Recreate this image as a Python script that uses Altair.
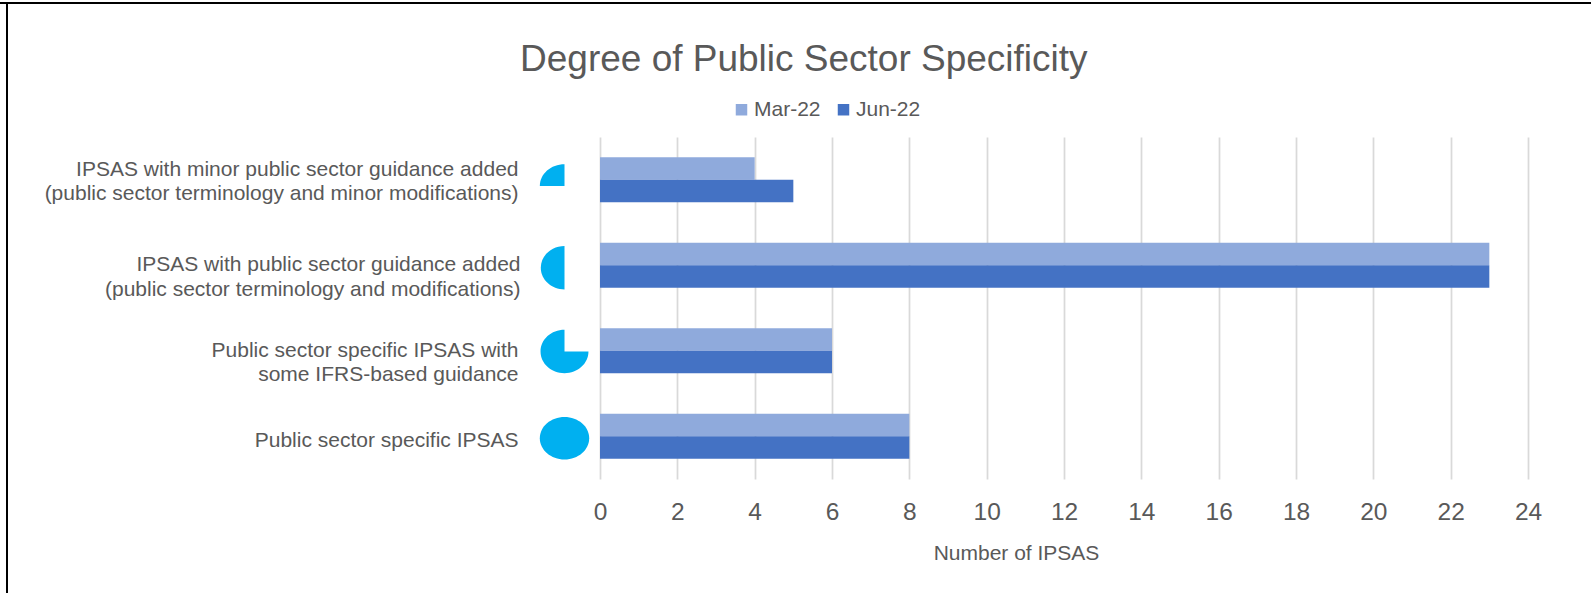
import altair as alt
import pandas as pd

chart_title = "Degree of Public Sector Specificity"
categories = [
    "IPSAS with minor public sector guidance added|(public sector terminology and minor modifications)",
    "IPSAS with public sector guidance added|(public sector terminology and modifications)",
    "Public sector specific IPSAS with|some IFRS-based guidance",
    "Public sector specific IPSAS",
]
series_names = ["Mar-22", "Jun-22"]
mar_22 = [4, 23, 6, 8]
jun_22 = [5, 23, 6, 8]
x_ticks = list(range(0, 25, 2))
pie_shapes = [
    "M0,0.25 L0,-0.63 A1,0.88 0 0 0 -1,0.25 Z",
    "M0,-0.78 A0.96,0.88 0 0 0 0,0.98 Z",
    "M0,-0.85 A0.97,0.88 0 1 0 0.97,0.03 L0,0.03 Z",
    "M0,-0.78 A1,0.86 0 1 1 0,0.94 A1,0.86 0 1 1 0,-0.78 Z",
]
pie_x = [-0.918] * 4

FONT = "Liberation Sans"
GREY = "#595959"

bars_df = pd.DataFrame(
    {
        "category": categories * 2,
        "series": [series_names[0]] * 4 + [series_names[1]] * 4,
        "value": mar_22 + jun_22,
    }
)
pies_df = pd.DataFrame({"category": categories, "x": pie_x, "shape": pie_shapes})
title_df = pd.DataFrame({"title": [chart_title]})

x_scale = alt.Scale(domain=[0, 24], nice=False)
y_enc = alt.Y(
    "category:N",
    sort=categories,
    scale=alt.Scale(paddingInner=0.475, paddingOuter=0.2375),
    axis=alt.Axis(
        title=None,
        domain=False,
        ticks=False,
        labelExpr="split(datum.label, '|')",
        labelFont=FONT,
        labelFontSize=21,
        labelColor=GREY,
        labelLineHeight=24.5,
        labelPadding={
            "condition": {"test": "indexof(datum.value, 'and modifications') >= 0", "value": 80},
            "value": 82,
        },
        labelLimit=600,
        labelOffset={
            "condition": [
                {"test": "indexof(datum.value, 'minor') >= 0", "value": -10},
                {"test": "datum.value === 'Public sector specific IPSAS'", "value": 5},
            ],
            "value": 0,
        },
    ),
)

bars = (
    alt.Chart(bars_df)
    .mark_bar(cornerRadius=0)
    .encode(
        x=alt.X(
            "value:Q",
            scale=x_scale,
            axis=alt.Axis(
                values=x_ticks,
                title="Number of IPSAS",
                titleFont=FONT,
                titleFontSize=21,
                titleFontWeight="normal",
                titleColor=GREY,
                titleX=416,
                titleY=63,
                labelFont=FONT,
                labelFontSize=24.5,
                labelColor=GREY,
                labelPadding=21,
                labelFlush=False,
                labelOverlap=False,
                domain=False,
                ticks=False,
                grid=True,
                gridColor="#D9D9D9",
                gridWidth=1.75,
            ),
        ),
        y=y_enc,
        yOffset=alt.YOffset("series:N", sort=series_names),
        color=alt.Color(
            "series:N",
            sort=series_names,
            scale=alt.Scale(domain=series_names, range=["#8FAADC", "#4472C4"]),
            legend=alt.Legend(
                title=None,
                orient="none",
                legendX=131,
                legendY=-38,
                direction="horizontal",
                symbolType="square",
                symbolSize=132,
                symbolStrokeWidth=0,
                labelFont=FONT,
                labelFontSize=21,
                labelColor=GREY,
                labelOffset=2,
                columnPadding=12,
            ),
        ),
    )
)

pies = (
    alt.Chart(pies_df)
    .mark_point(filled=True, opacity=1, color="#00B0F0", size=2440, clip=False)
    .encode(
        x=alt.X("x:Q", scale=x_scale),
        y=y_enc,
        shape=alt.Shape(
            "shape:N", scale=alt.Scale(domain=pie_shapes, range=pie_shapes), legend=None
        ),
    )
)

frame_top = alt.Chart(pies_df).mark_rule(color="black", strokeWidth=2).encode(
    x=alt.value(-600), x2=alt.value(991), y=alt.value(-134)
)
frame_left = alt.Chart(pies_df).mark_rule(color="black", strokeWidth=2).encode(
    x=alt.value(-593), y=alt.value(-135), y2=alt.value(456)
)
title_mark = (
    alt.Chart(title_df)
    .mark_text(
        font=FONT,
        fontSize=37,
        fontWeight="normal",
        color=GREY,
        align="left",
        baseline="alphabetic",
    )
    .encode(text="title:N", x=alt.value(-80), y=alt.value(-66))
)

chart = (
    alt.layer(bars, pies, frame_top, frame_left, title_mark)
    .properties(
        width=928,
        height=342,
        padding={"left": 600, "top": 137, "right": 63, "bottom": 114},
        autosize=alt.AutoSizeParams(type="none"),
        background="white",
    )
    .configure_view(stroke=None)
)

chart.save(
    "out.html",
    embed_options={"renderer": "svg", "actions": False, "defaultStyle": "body{margin:0}"},
)
